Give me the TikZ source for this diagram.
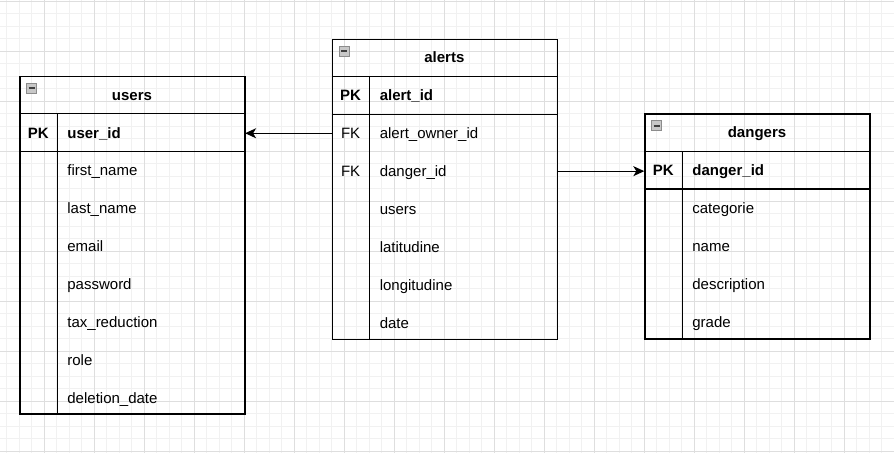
\documentclass[tikz,border=0pt]{standalone}
\usepackage{fontspec}
\setmainfont{Liberation Sans}
\usetikzlibrary{arrows.meta}
\newcommand\fsz{\fontsize{15}{18}\selectfont}
\definecolor{gridminor}{RGB}{241,241,241}
\definecolor{gridmajor}{RGB}{222,222,222}
\definecolor{iconfill}{RGB}{200,200,200}
\definecolor{iconedge}{RGB}{140,140,140}
\begin{document}
\begin{tikzpicture}[x=1pt,y=-1pt,
  gminor/.style={draw=gridminor, line width=1pt},
  gmajor/.style={draw=gridmajor, line width=1pt},
  tline/.style={line width=1.3pt},
  tbl/.style={draw, line width=1.3pt, minimum width=225pt, anchor=north west, inner sep=0pt},
  hdr/.style={minimum width=225pt, minimum height=37.5pt, inner sep=0pt, anchor=north west,
              font=\fsz\bfseries, text height=10.8pt, text depth=0pt},
  keycell/.style={minimum width=37.5pt, minimum height=37.5pt, inner sep=0pt, anchor=north west,
              font=\fsz, text height=10.8pt, text depth=0pt},
  fldcell/.style={minimum height=37.5pt, text width=167.5pt, inner xsep=10pt, inner ysep=0pt,
              align=left, anchor=west, font=\fsz, text height=10.8pt, text depth=0pt},
  pkb/.style={font=\fsz\bfseries},
  minusicon/.style={draw=iconedge, fill=iconfill, line width=0.8pt, minimum size=10pt, inner sep=0pt,
              anchor=north west, xshift=7pt, yshift=-7pt,
              path picture={\draw[line width=2pt, black!75]
                ([xshift=2pt]path picture bounding box.west) -- ([xshift=-2pt]path picture bounding box.east);}},
  arr/.style={line width=1.3pt, -{Stealth[length=11pt, width=10pt, inset=3pt]}}
]
\useasboundingbox (0,0) rectangle (894,453);
% grid
\foreach \i in {0,...,71} \draw[gminor] ({6.8+12.5*\i},0) -- ++(0,453);
\foreach \i in {0,...,36} \draw[gminor] (0,{1.2+12.5*\i}) -- ++(894,0);
\foreach \i in {0,...,17} \draw[gmajor] ({44.3+50*\i},0) -- ++(0,453);
\foreach \i in {0,...,9} \draw[gmajor] (0,{1.2+50*\i}) -- ++(894,0);

% ---------- users ----------
\node[tbl, minimum height=337.5pt] (users) at (19.3,75.8) {};
\node[hdr] (users-h) at (users.north west) {users};
\node[minusicon] (users-m) at (users.north west) {};
\node[keycell, pkb] (users-k1) at (users-h.south west) {PK};
\node[fldcell, pkb] (users-f1) at (users-k1.east) {user\_id};
\foreach [count=\i from 2, remember=\i as \p (initially 1)] \k/\f in
  {/first\_name, /last\_name, /email, /password, /tax\_reduction, /role, /deletion\_date}{
  \node[keycell] (users-k\i) at (users-k\p.south west) {\k};
  \node[fldcell] (users-f\i) at (users-k\i.east) {\f};
}
\draw[tline] (users-h.south west) -- (users-h.south east);
\draw[tline] (users-k1.south west) -- (users-f1.south east);
\draw[tline] (users-k1.north east) -- (users-k1.north east |- users.south);

% ---------- alerts ----------
\node[tbl, minimum height=300pt] (alerts) at (331.7,38.5) {};
\node[hdr] (alerts-h) at (alerts.north west) {alerts};
\node[minusicon] (alerts-m) at (alerts.north west) {};
\node[keycell, pkb] (alerts-k1) at (alerts-h.south west) {PK};
\node[fldcell, pkb] (alerts-f1) at (alerts-k1.east) {alert\_id};
\foreach [count=\i from 2, remember=\i as \p (initially 1)] \k/\f in
  {FK/alert\_owner\_id, FK/danger\_id, /users, /latitudine, /longitudine, /date}{
  \node[keycell] (alerts-k\i) at (alerts-k\p.south west) {\k};
  \node[fldcell] (alerts-f\i) at (alerts-k\i.east) {\f};
}
\draw[tline] (alerts-h.south west) -- (alerts-h.south east);
\draw[tline] (alerts-k1.south west) -- (alerts-f1.south east);
\draw[tline] (alerts-k1.north east) -- (alerts-k1.north east |- alerts.south);

% ---------- dangers ----------
\node[tbl, minimum height=225pt] (dangers) at (644.3,113.3) {};
\node[hdr] (dangers-h) at (dangers.north west) {dangers};
\node[minusicon] (dangers-m) at (dangers.north west) {};
\node[keycell, pkb] (dangers-k1) at (dangers-h.south west) {PK};
\node[fldcell, pkb] (dangers-f1) at (dangers-k1.east) {danger\_id};
\foreach [count=\i from 2, remember=\i as \p (initially 1)] \k/\f in
  {/categorie, /name, /description, /grade}{
  \node[keycell] (dangers-k\i) at (dangers-k\p.south west) {\k};
  \node[fldcell] (dangers-f\i) at (dangers-k\i.east) {\f};
}
\draw[tline] (dangers-h.south west) -- (dangers-h.south east);
\draw[tline] (dangers-k1.south west) -- (dangers-f1.south east);
\draw[tline] (dangers-k1.north east) -- (dangers-k1.north east |- dangers.south);

% ---------- relations ----------
\draw[arr] (alerts-k2.west) -- (alerts-k2.west -| users-f1.east);
\draw[arr] (alerts-f3.east) -- (alerts-f3.east -| dangers-k1.west);
\end{tikzpicture}
\end{document}
